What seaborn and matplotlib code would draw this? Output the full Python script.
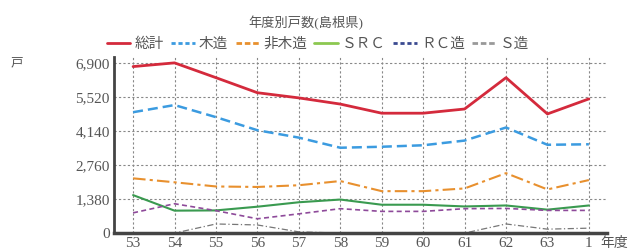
import pandas as pd
import numpy as np
import matplotlib
matplotlib.use("Agg")
import matplotlib.pyplot as plt
import seaborn as sns

# 年度 (昭和53〜63, 平成1)
years = ["53", "54", "55", "56", "57", "58", "59", "60", "61", "62", "63", "1"]

total = [6750, 6900, 6300, 5690, 5480, 5230, 4860, 4860, 5030, 6300, 4830, 5440]
wood = [4900, 5190, 4700, 4170, 3870, 3460, 3500, 3560, 3750, 4280, 3580, 3600]
non_wood = [2220, 2060, 1890, 1870, 1940, 2110, 1700, 1700, 1810, 2430, 1770, 2150]
src = [1540, 910, 920, 1070, 1250, 1360, 1150, 1150, 1080, 1120, 950, 1120]
rc = [820, 1190, 910, 580, 780, 990, 880, 880, 990, 1000, 920, 920]
s_zo = [0, 0, 370, 330, 50, 0, 0, 0, 0, 370, 160, 200]

series_names = ["総計", "木造", "非木造", "ＳＲＣ", "ＲＣ造", "Ｓ造"]
yticks = [0, 1380, 2760, 4140, 5520, 6900]

sns.set_style("white")
plt.rcParams["font.family"] = ["Liberation Serif", "DejaVu Serif", "Noto Sans CJK JP", "DejaVu Sans"]

fig = plt.figure(figsize=(6.3, 2.52), dpi=100)
ax = fig.add_axes([0.181, 0.075, 0.782, 0.70])

x = np.arange(len(years))
data = [total, wood, non_wood, src, rc, s_zo]
colors = ["#d42a3c", "#3b9be0", "#e8902e", "#3a9a50", "#8e4a9a", "#777777"]
leg_colors = ["#d42a3c", "#3b9be0", "#e8902e", "#8cc850", "#3a4a90", "#999999"]
styles = ["-", (0, (4, 2)), (0, (6, 2, 1.5, 2)), "-", (0, (3, 2)), (0, (5, 2, 1, 2))]
widths = [2.0, 1.8, 1.5, 1.5, 1.2, 0.9]

for name, vals, c, ls, lw in zip(series_names, data, colors, styles, widths):
    df = pd.DataFrame({"x": x, "v": vals})
    sns.lineplot(data=df, x="x", y="v", ax=ax, color=c, linestyle=ls, linewidth=lw, zorder=3)

ax.set_xlim(-0.46, 11.43)
ax.set_ylim(0, 7150)
ax.set_xticks(x)
ax.set_xticklabels(years)
ax.set_yticks(yticks)
ax.set_yticklabels([f"{v:,}" for v in yticks])
ax.set_xlabel("")
ax.set_ylabel("")
ax.tick_params(axis="both", labelsize=11, labelcolor="#555555", length=0, pad=3)

ax.grid(True, color="#888888", linestyle=(0, (2, 2)), linewidth=0.8)
for side in ["top", "right"]:
    ax.spines[side].set_visible(False)
ax.spines["left"].set_color("#444444")
ax.spines["left"].set_linewidth(2)
ax.spines["bottom"].set_color("#444444")
ax.spines["bottom"].set_linewidth(2.5)
ax.spines["bottom"].set_zorder(4)

# 凡例
handles = [plt.Line2D([], [], color=c, linestyle=ls, linewidth=2)
           for c, ls in zip(leg_colors, ["-", (0, (1.5, 1)), (0, (2, 1)), "-", (0, (1.5, 1)), (0, (2, 1))])]
fig.legend(handles, series_names, loc="center", bbox_to_anchor=(0.505, 0.825), ncol=6,
           frameon=False, fontsize=10.5, handlelength=1.6, handletextpad=0.3,
           columnspacing=0.5, labelcolor="#555555")

fig.text(0.486, 0.91, "年度別戸数(島根県)", ha="center", va="center", fontsize=9.5, color="#555555")
fig.text(0.027, 0.75, "戸", ha="center", va="center", fontsize=9, color="#555555")
fig.text(0.997, 0.035, "年度", ha="right", va="center", fontsize=10, color="#555555")

fig.savefig("out.png", dpi=100)
